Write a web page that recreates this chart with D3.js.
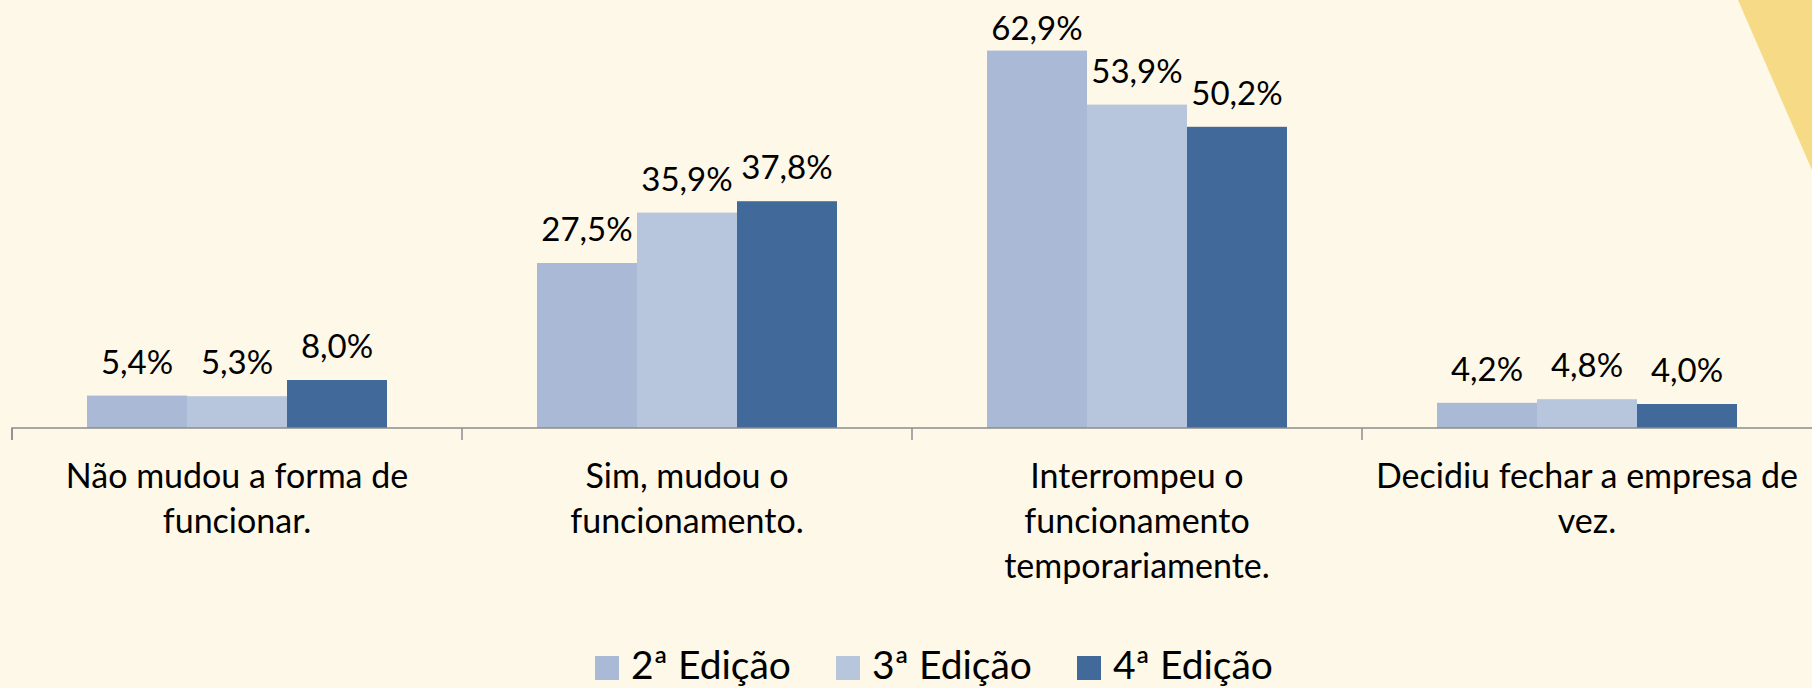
<!DOCTYPE html>
<html>
<head>
<meta charset="utf-8">
<script src="https://cdn.jsdelivr.net/npm/d3@7"></script>
<style>
  html, body { margin: 0; padding: 0; background: #FEF8E8; }
  svg { display: block; }
  text { font-family: Lato, "Open Sans", sans-serif; fill: #000; }
</style>
</head>
<body>
<div class="chart"></div>
<script>
// categories (line breaks as shown in the chart)
const categories = [
  "Não mudou a forma de\nfuncionar.",
  "Sim, mudou o\nfuncionamento.",
  "Interrompeu o\nfuncionamento\ntemporariamente.",
  "Decidiu fechar a empresa de\nvez."
]
const series = ["2ª Edição", "3ª Edição", "4ª Edição"]
const ed2 = [5.4, 27.5, 62.9, 4.2]
const ed3 = [5.3, 35.9, 53.9, 4.8]
const ed4 = [8.0, 37.8, 50.2, 4.0]
const colors = ["#A9B9D6", "#B7C6DD", "#416A9B"]

const values = [ed2, ed3, ed4]
const width = 1812, height = 688

const svg = d3.select(".chart")
  .append("svg")
  .attr("width", width)
  .attr("height", height)

// decorative corner
svg.append("path")
  .attr("d", "M1738,0 L1812,0 L1812,170 Z")
  .attr("fill", "#F6DA85")

const x = d3.scaleBand()
  .domain(categories)
  .range([12, 1812])

const xs = d3.scaleBand()
  .domain(series)
  .range([75, 375])

const y = d3.scaleLinear()
  .domain([0, 70])
  .range([428, 8])

const fmt = v => d3.format(".1f")(v).replace(".", ",") + "%"

const groups = svg.selectAll("g.cat")
  .data(categories)
  .join("g")
  .attr("class", "cat")
  .attr("transform", d => `translate(${x(d)},0)`)

groups.selectAll("rect")
  .data((d, i) => series.map((s, j) => ({s, j, v: values[j][i]})))
  .join("rect")
  .attr("x", d => xs(d.s))
  .attr("y", d => y(d.v))
  .attr("width", xs.bandwidth())
  .attr("height", d => y(0) - y(d.v))
  .attr("fill", d => colors[d.j])

groups.selectAll("text.val")
  .data((d, i) => series.map((s, j) => ({s, j, v: values[j][i]})))
  .join("text")
  .attr("class", "val")
  .attr("x", d => xs(d.s) + xs.bandwidth() / 2)
  .attr("y", d => Math.max(y(d.v) - 22, 40))
  .attr("text-anchor", "middle")
  .style("font-size", "33px")
  .text(d => fmt(d.v))

// axis
const axis = svg.append("g")
  .attr("transform", `translate(0,${y(0)})`)
  .call(d3.axisBottom(x).tickSize(12).tickFormat(""))
axis.select(".domain").attr("stroke", "#8C8C8C").attr("stroke-width", 1.5)
  .attr("d", `M${x.range()[0]},12V0H${x.range()[1]}`)
axis.selectAll(".tick line")
  .attr("stroke", "#8C8C8C").attr("stroke-width", 1.5)
  .attr("transform", `translate(${-x.bandwidth() / 2},0)`)

// category labels
svg.selectAll("text.cat")
  .data(categories)
  .join("text")
  .attr("class", "cat")
  .attr("text-anchor", "middle")
  .style("font-size", "34px")
  .each(function(d) {
    const t = d3.select(this)
    d.split("\n").forEach((line, k) => {
      t.append("tspan")
        .attr("x", x(d) + x.bandwidth() / 2)
        .attr("y", 488 + k * 45)
        .text(line)
    })
  })

// legend
const legendX = [595, 836, 1077]
const legend = svg.selectAll("g.leg")
  .data(series)
  .join("g")
  .attr("class", "leg")
  .attr("transform", (d, i) => `translate(${legendX[i]},656)`)
legend.append("rect")
  .attr("width", 24).attr("height", 24)
  .attr("fill", (d, i) => colors[i])
legend.append("text")
  .attr("x", 36).attr("y", 23)
  .style("font-size", "39px")
  .text(d => d)
</script>
</body>
</html>
